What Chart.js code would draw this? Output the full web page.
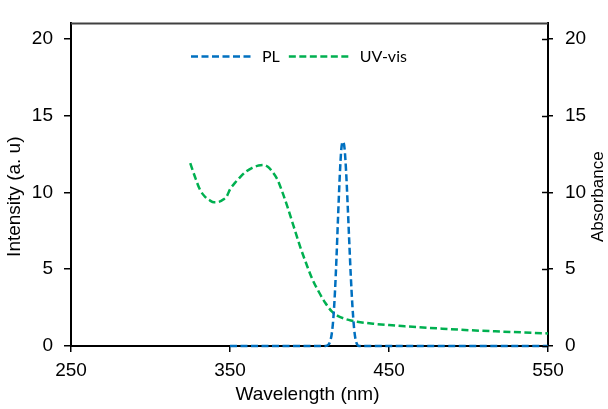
<!DOCTYPE html>
<html>
<head>
<meta charset="utf-8">
<script src="https://cdn.jsdelivr.net/npm/chart.js@4.4.1/dist/chart.umd.min.js"></script>
<style>
  html, body { margin: 0; padding: 0; background: #fff; }
  #wrap { width: 608px; height: 409px; }
</style>
</head>
<body>
<div id="wrap"><canvas id="chart" width="608" height="409"></canvas></div>
<script>
// PL spectrum (left axis, intensity)
const plWavelength = [350, 370, 390, 405, 410, 412, 413, 414, 415, 416, 417, 418, 419, 420, 421, 422, 423, 424, 425, 426, 427, 428, 429, 430, 431, 450, 500, 550];
const plIntensity  = [0, 0, 0, 0, 0, 0.1, 0.3, 0.8, 1.8, 3.5, 5.8, 8.5, 11.0, 12.8, 13.3, 12.9, 11.4, 9.2, 6.8, 4.5, 2.6, 1.2, 0.4, 0.1, 0, 0, 0, 0];

// UV-vis spectrum (right axis, absorbance)
const uvWavelength = [325, 328, 331, 334, 337, 340, 343, 346, 348, 350, 353, 356, 360, 364, 368, 371, 374, 377, 380, 383, 386, 390, 394, 398, 402, 406, 410, 414, 418, 422, 426, 430, 440, 450, 460, 480, 500, 520, 540, 550];
const uvAbsorbance = [11.9, 11.0, 10.2, 9.75, 9.5, 9.35, 9.38, 9.55, 9.75, 10.2, 10.6, 10.95, 11.35, 11.6, 11.75, 11.78, 11.65, 11.3, 10.8, 10.0, 9.1, 7.8, 6.5, 5.35, 4.3, 3.5, 2.8, 2.25, 1.95, 1.78, 1.66, 1.58, 1.45, 1.36, 1.28, 1.15, 1.03, 0.94, 0.86, 0.82];

const xTicks = [250, 350, 450, 550];
const yTicks = [0, 5, 10, 15, 20];

const seriesNames = ["PL", "UV-vis"];
const seriesColors = ["#0070C0", "#00B050"];

const xTitle = "Wavelength (nm)";
const yTitle = "Intensity (a. u)";
const y1Title = "Absorbance";

const font = "'Liberation Sans', Arial, sans-serif";

function pairs(xs, ys) {
  return xs.map((x, i) => ({ x: x, y: ys[i] }));
}

function keepTicks(list) {
  return (scale) => {
    scale.ticks = list.map((v) => ({ value: v }));
  };
}

// top frame line, inner tick marks on the right axis, axis titles and the in-plot legend
const framePlugin = {
  id: "frame",
  afterDraw(chart) {
    const { ctx, chartArea } = chart;
    const y1 = chart.scales.y1;
    ctx.save();
    ctx.strokeStyle = "#404040";
    ctx.lineWidth = 2;
    ctx.beginPath();
    ctx.moveTo(chartArea.left, chartArea.top);
    ctx.lineTo(chartArea.right, chartArea.top);
    ctx.stroke();

    ctx.strokeStyle = "#000";
    ctx.lineWidth = 1.5;
    yTicks.forEach((v) => {
      const py = Math.round(y1.getPixelForValue(v)) + 0.5;
      ctx.beginPath();
      ctx.moveTo(chartArea.right - 6, py);
      ctx.lineTo(chartArea.right, py);
      ctx.stroke();
    });

    // axis titles
    const midY = chartArea.top + (chartArea.bottom - chartArea.top) / 2 + 12;
    ctx.fillStyle = "#000";
    ctx.textAlign = "center";
    ctx.textBaseline = "middle";
    ctx.font = "19px " + font;
    ctx.save();
    ctx.translate(15, midY);
    ctx.rotate(-Math.PI / 2);
    ctx.fillText(yTitle, 0, 0);
    ctx.restore();
    ctx.save();
    ctx.font = "17px " + font;
    ctx.translate(598, midY);
    ctx.rotate(-Math.PI / 2);
    ctx.fillText(y1Title, 0, 0);
    ctx.restore();
    ctx.fillText(xTitle, (chartArea.left + chartArea.right) / 2 - 2, 395);

    // legend
    let x = chartArea.left + 120;
    const y = chartArea.top + 33;
    ctx.font = "16px Lato, 'Open Sans', sans-serif";
    ctx.textAlign = "left";
    chart.data.datasets.forEach((ds) => {
      ctx.strokeStyle = ds.borderColor;
      ctx.lineWidth = ds.borderWidth;
      ctx.setLineDash(ds.borderDash);
      ctx.beginPath();
      ctx.moveTo(x, y);
      ctx.lineTo(x + 62, y);
      ctx.stroke();
      ctx.setLineDash([]);
      ctx.fillText(ds.label, x + 71, y);
      x += 71 + ctx.measureText(ds.label).width + 9;
    });
    ctx.restore();
  },
};

new Chart(document.getElementById("chart"), {
  type: "line",
  data: {
    datasets: [
      {
        label: seriesNames[0],
        data: pairs(plWavelength, plIntensity),
        yAxisID: "y",
        borderColor: seriesColors[0],
        borderWidth: 2.5,
        borderDash: [7, 3.5],
        pointRadius: 0,
        cubicInterpolationMode: "monotone",
        fill: false,
        clip: false,
      },
      {
        label: seriesNames[1],
        data: pairs(uvWavelength, uvAbsorbance),
        yAxisID: "y1",
        borderColor: seriesColors[1],
        borderWidth: 2.5,
        borderDash: [7, 3.5],
        pointRadius: 0,
        cubicInterpolationMode: "monotone",
        fill: false,
        clip: false,
      },
    ],
  },
  options: {
    responsive: false,
    animation: false,
    layout: { padding: { top: 22 } },
    plugins: {
      legend: { display: false },
      tooltip: { enabled: false },
    },
    scales: {
      x: {
        type: "linear",
        min: 250,
        max: 550,
        afterBuildTicks: keepTicks(xTicks),
        afterFit: (s) => { s.height = 63; },
        border: { color: "#000", width: 2 },
        grid: { drawOnChartArea: false, drawTicks: true, tickLength: 6, color: "#000", lineWidth: 1.5 },
        ticks: { color: "#000", font: { family: font, size: 19 }, padding: 7, maxRotation: 0 },
      },
      y: {
        position: "left",
        min: 0,
        max: 21,
        afterBuildTicks: keepTicks(yTicks),
        afterFit: (s) => { s.width = 71; },
        border: { color: "#000", width: 2 },
        grid: { drawOnChartArea: false, drawTicks: true, tickLength: 7, color: "#000", lineWidth: 1.5 },
        ticks: { color: "#000", font: { family: font, size: 19 }, padding: 11 },
      },
      y1: {
        position: "right",
        min: 0,
        max: 21,
        afterBuildTicks: keepTicks(yTicks),
        afterFit: (s) => { s.width = 60; },
        border: { color: "#000", width: 2 },
        grid: { drawOnChartArea: false, drawTicks: true, tickLength: 5, color: "#000", lineWidth: 1.5 },
        ticks: { color: "#000", font: { family: font, size: 19 }, padding: 12 },
      },
    },
  },
  plugins: [framePlugin],
});
</script>
</body>
</html>
